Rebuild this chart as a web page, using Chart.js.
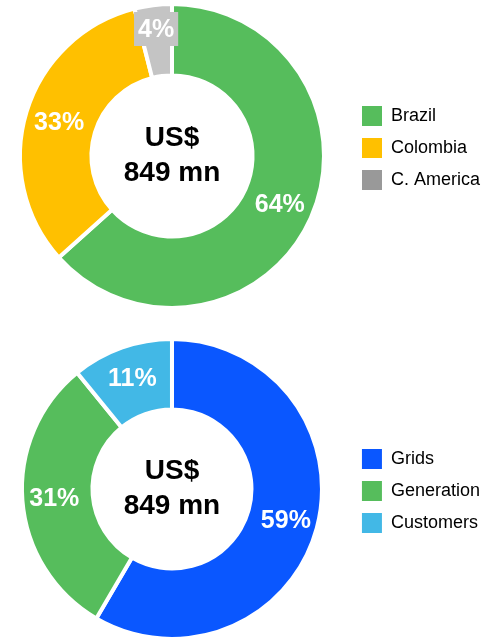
<!DOCTYPE html>
<html>
<head>
<meta charset="UTF-8">
<script src="https://cdn.jsdelivr.net/npm/chart.js"></script>
<style>
  body { margin: 0; background: #fff; font-family: Arial, "Liberation Sans", sans-serif; overflow: hidden; }
  .box { position: relative; width: 502px; }
  #b1 { height: 320px; }
  #b2 { height: 321px; }
</style>
</head>
<body>
<div class="box" id="b1"><canvas id="region"></canvas></div>
<div class="box" id="b2"><canvas id="segment"></canvas></div>
<script>
const regionLabels = ['Brazil', 'Colombia', 'C. America'];
const regionValues = [64, 33, 4];
const regionColors = ['#56bd5c', '#ffc000', '#c4c4c4'];
const regionLegendColors = ['#56bd5c', '#ffc000', '#999999'];

const segmentLabels = ['Grids', 'Generation', 'Customers'];
const segmentValues = [59, 31, 11];
const segmentColors = ['#0a57ff', '#56bd5c', '#42b8e6'];

const centerLines = ['US$', '849 mn'];
const FONT = 'Arial, "Liberation Sans", sans-serif';

// center text + percent labels on each slice
const ringText = {
  id: 'ringText',
  afterLayout(chart, args, opts) {
    // nudge legend position (legend is centred on the chart area by default)
    const lg = chart.legend;
    if (lg && opts.legendShift) {
      lg.top += opts.legendShift[1];
      lg.bottom += opts.legendShift[1];
      lg.left += opts.legendShift[0];
      lg.right += opts.legendShift[0];
    }
  },
  afterDatasetsDraw(chart, args, opts) {
    const ctx = chart.ctx;
    const meta = chart.getDatasetMeta(0);
    const arc0 = meta.data[0];
    const cx = arc0.x, cy = arc0.y;
    ctx.save();
    ctx.textAlign = 'center';
    ctx.textBaseline = 'middle';
    ctx.fillStyle = '#000';
    ctx.font = 'bold 28px ' + FONT;
    ctx.fillText(centerLines[0], cx, cy - 18);
    ctx.fillText(centerLines[1], cx, cy + 17);

    ctx.font = 'bold 25px ' + FONT;
    meta.data.forEach((arc, i) => {
      const mid = (arc.startAngle + arc.endAngle) / 2;
      const r = (opts.radius && opts.radius[i]) || 118;
      const x = cx + Math.cos(mid) * r;
      const y = cy + Math.sin(mid) * r;
      const txt = chart.data.datasets[0].data[i] + '%';
      if (opts.bg && opts.bg[i]) {
        const w = ctx.measureText(txt).width + 8;
        ctx.fillStyle = opts.bg[i];
        ctx.fillRect(x - w / 2, y - 17, w, 34);
      }
      ctx.fillStyle = '#fff';
      ctx.fillText(txt, x, y + 1);
    });
    ctx.restore();
  }
};

function makeDonut(id, labels, values, colors, legendColors, pad, labelOpts) {
  return new Chart(document.getElementById(id), {
    type: 'doughnut',
    data: {
      labels: labels,
      datasets: [{
        data: values,
        backgroundColor: colors,
        borderColor: '#fff',
        borderWidth: 4,
        hoverOffset: 0
      }]
    },
    options: {
      responsive: true,
      maintainAspectRatio: false,
      animation: false,
      cutout: '53%',
      layout: { padding: pad },
      plugins: {
        tooltip: { enabled: false },
        ringText: labelOpts,
        legend: {
          position: 'right',
          labels: {
            boxWidth: 20,
            boxHeight: 20,
            padding: 12,
            color: '#111',
            font: { family: FONT, size: 18 },
            generateLabels(chart) {
              return labels.map((l, i) => ({
                text: l,
                fillStyle: legendColors[i],
                strokeStyle: legendColors[i],
                lineWidth: 0,
                index: i
              }));
            }
          }
        }
      }
    },
    plugins: [ringText]
  });
}

makeDonut('region', regionLabels, regionValues, regionColors, regionLegendColors,
  { top: 2, bottom: 10, left: 0, right: 18 },
  { bg: [null, null, '#c4c4c4'], radius: [0, 0, 128], legendShift: [6, -8] });

makeDonut('segment', segmentLabels, segmentValues, segmentColors, segmentColors,
  { top: 17, bottom: 0, left: 0, right: 18 },
  { bg: [], radius: [], legendShift: [6, 2] });
</script>
</body>
</html>
